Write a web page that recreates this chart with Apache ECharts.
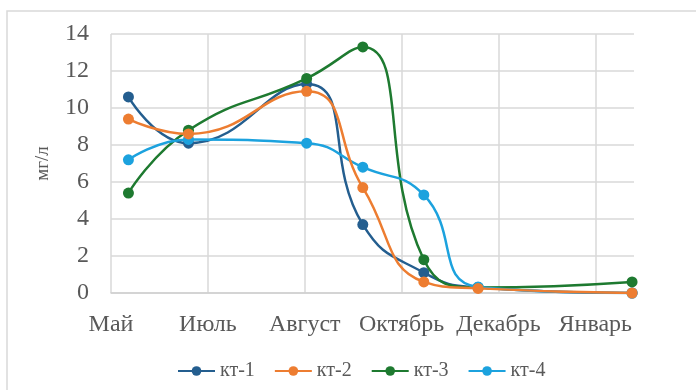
<!DOCTYPE html>
<html>
<head>
<meta charset="utf-8">
<script src="https://cdn.jsdelivr.net/npm/echarts@6/dist/echarts.min.js"></script>
<style>
html,body{margin:0;padding:0;background:#fff;}
#chart{width:696px;height:390px;}
</style>
</head>
<body>
<div id="chart"></div>
<script>
// Month tick labels placed at x = 0..5
const tickLabels = ['Май', 'Июль', 'Август', 'Октябрь', 'Декабрь', 'Январь'];
// Sampling positions on the x scale
const xPos = [0.18, 0.80, 2.02, 2.60, 3.23, 3.79, 5.38];
const seriesNames = ['кт-1', 'кт-2', 'кт-3', 'кт-4'];
const kt1 = [10.6, 8.1, 11.3, 3.7, 1.1, 0.3, 0.0];
const kt2 = [9.4, 8.6, 10.9, 5.7, 0.6, 0.25, 0.0];
const kt3 = [5.4, 8.8, 11.6, 13.3, 1.8, 0.3, 0.6];
const kt4 = [7.2, 8.3, 8.1, 6.8, 5.3, 0.33, 0.0];
const colors = ['#245E8F', '#ED7D31', '#1E7A30', '#1CA2DE'];

const values = [kt1, kt2, kt3, kt4];
const font = '"Liberation Serif", "Times New Roman", serif';
const grid = '#d9d9d9';
const chart = echarts.init(document.getElementById('chart'));
chart.setOption({
  animation: false,
  color: colors,
  graphic: [{
    type: 'rect', shape: {x: 7, y: 11, width: 700, height: 400},
    style: {fill: 'none', stroke: '#d9d9d9', lineWidth: 1.5}, silent: true, z: -1
  }],
  grid: {left: 111, right: 62, top: 34, bottom: 97},
  legend: {
    data: seriesNames, left: 172, top: 356, itemWidth: 37, itemHeight: 12, itemGap: 19,
    textStyle: {fontFamily: font, fontSize: 20, color: '#595959'}
  },
  xAxis: {
    type: 'value', min: 0, max: 5.4, interval: 1,
    axisLine: {show: true, lineStyle: {color: '#d0d0d0', width: 1.5}},
    axisTick: {show: false},
    splitLine: {show: true, lineStyle: {color: [grid, grid, grid, grid, grid, grid, 'rgba(0,0,0,0)'], width: 1.5}},
    axisLabel: {
      margin: 20, fontFamily: font, fontSize: 24, color: '#595959',
      showMaxLabel: false,
      formatter: v => Number.isInteger(v) && tickLabels[v] !== undefined ? tickLabels[v] : ''
    }
  },
  yAxis: {
    type: 'value', min: 0, max: 14, interval: 2,
    name: 'мг/л', nameLocation: 'middle', nameRotate: 90, nameGap: 58,
    nameTextStyle: {fontFamily: font, fontSize: 19, color: '#595959'},
    axisLine: {show: false}, axisTick: {show: false},
    splitLine: {lineStyle: {color: grid, width: 1.5}},
    axisLabel: {margin: 22, fontFamily: font, fontSize: 24, color: '#595959'}
  },
  series: values.map((vals, i) => ({
    name: seriesNames[i], type: 'line', smooth: 0.5,
    data: vals.map((v, j) => [xPos[j], v]),
    symbol: 'circle', symbolSize: 11,
    lineStyle: {width: 2.5, color: colors[i]},
    itemStyle: {color: colors[i]},
    z: i === 1 ? 6 : 2 + i
  }))
});
</script>
</body>
</html>
